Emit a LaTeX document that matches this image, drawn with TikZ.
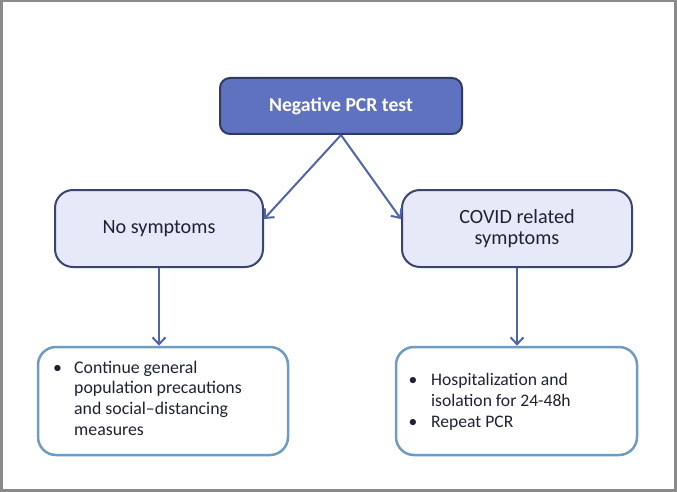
\documentclass[tikz,border=0pt]{standalone}
\usepackage{fontspec}
\setmainfont{Carlito}
\usetikzlibrary{arrows.meta,calc}
\definecolor{topfill}{HTML}{5F72BF}
\definecolor{topdraw}{HTML}{2F3B66}
\definecolor{midfill}{HTML}{E6E9F8}
\definecolor{middraw}{HTML}{3C4470}
\definecolor{botdraw}{HTML}{6E9CC0}
\definecolor{arrowc}{HTML}{5064AB}
\definecolor{textc}{HTML}{1E2233}
\definecolor{framec}{HTML}{8A8A8A}
\tikzset{
  topbox/.style={draw=topdraw, line width=2pt, fill=topfill, rounded corners=10pt, text=white, font=\fontsize{19.7}{20.5}\selectfont\bfseries, align=center, inner sep=0pt},
  midbox/.style={draw=middraw, line width=2pt, fill=midfill, rounded corners=18pt, text=textc, font=\fontsize{20.2}{20.5}\selectfont, align=center, inner sep=0pt},
  botbox/.style={draw=botdraw, line width=2.5pt, fill=white, rounded corners=18pt, inner sep=0pt},
  bultext/.style={anchor=base west, inner sep=0pt, text=textc},
  conn/.style={draw=arrowc, line width=2pt, -{Straight Barb[length=7pt,width=13pt,line width=2pt]}}
}
\begin{document}
\begin{tikzpicture}[x=1pt,y=-1pt]
\fill[framec] (0,0) rectangle (677,492);
\fill[white] (3,2) rectangle (674,489);
\useasboundingbox (0,0) rectangle (677,492);
\node[topbox, minimum width=242pt, minimum height=56pt] (top) at (341,106) {Negative PCR test};
\node[midbox, minimum width=208pt, minimum height=77pt] (lm) at (159,228.5) {No symptoms};
\node[midbox, minimum width=230pt, minimum height=77pt] (rm) at (517,228.5) {COVID related\\symptoms};
\node[botbox, minimum width=250pt, minimum height=108pt] (bl) at (163,401) {};
\node[botbox, minimum width=241pt, minimum height=108pt] (br) at (516.5,401) {};
\node[bultext, font=\fontsize{17.8}{20.7}\selectfont] (blt) at (53,373) {\begin{tabular}[t]{@{}p{21pt}@{}l@{}}•&Continue general\\&population precautions\\&and social–distancing\\&measures\end{tabular}};
\node[bultext, font=\fontsize{17.6}{21}\selectfont] (brt) at (408.5,385) {\begin{tabular}[t]{@{}p{22.5pt}@{}l@{}}•&Hospitalization and\\&isolation for 24-48h\\•&Repeat PCR\end{tabular}};
\draw[conn] (top.south) -- ($(lm.north east)!0.38!(lm.south east)$);
\draw[conn] (top.south) -- ($(rm.north west)!0.38!(rm.south west)$);
\draw[conn] (lm.south) -- (lm.south |- bl.north);
\draw[conn] (rm.south) -- (rm.south |- br.north);
\end{tikzpicture}
\end{document}
